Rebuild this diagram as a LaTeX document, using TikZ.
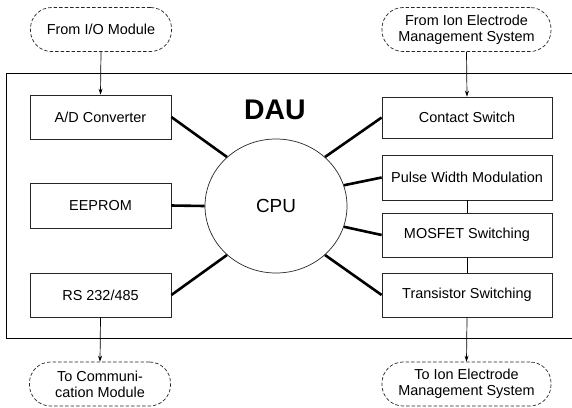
\documentclass[tikz,border=0pt]{standalone}
\usepackage{fontspec}
\setmainfont{Liberation Sans}
\usetikzlibrary{shapes.geometric,arrows.meta}
\begin{document}
\begin{tikzpicture}[x=1bp,y=-1bp,
  box/.style={draw=black!85, line width=0.7bp, inner sep=0pt, align=center,
    font=\fontsize{14.5}{16}\selectfont},
  lbox/.style={box, minimum width=141bp, minimum height=44bp},
  rbox/.style={box, minimum width=170bp, minimum height=44bp},
  ext/.style={draw=black!85, line width=0.7bp, dash pattern=on 3.5bp off 2bp,
    rounded corners=21bp, inner sep=0pt, align=center,
    font=\fontsize{14.5}{16}\selectfont, minimum height=44bp},
  link/.style={line width=2.6bp, black},
  flow/.style={line width=0.7bp, -{Stealth[length=6bp,width=4bp]}},
  thin/.style={line width=0.7bp}
]
\useasboundingbox (0,0) rectangle (572,407);
% DAU frame
\coordinate (ftr) at (573,73);
\coordinate (ftl) at (6,73);
\coordinate (fbl) at (6,338);
\coordinate (fbr) at (573,338);
\draw[thin] (ftr) -- (ftl) -- (fbl) -- (fbr);
\node[font=\fontsize{28.5}{30}\selectfont\bfseries] (dau) at (275,110) {DAU};
% CPU
\node[ellipse, draw=black!85, line width=0.7bp, minimum width=142bp, minimum height=134bp,
  inner sep=0pt, font=\fontsize{19}{21}\selectfont] (cpu) at (276,206) {CPU};
% left boxes
\node[lbox] (ad) at (100.5,117) {A/D Converter};
\node[lbox, minimum height=45bp] (ee) at (100.5,205.5) {EEPROM};
\node[lbox] (rs) at (100.5,295) {RS 232/485};
% right boxes
\node[rbox, minimum height=41bp] (cs) at (467,117.5) {Contact Switch};
\node[rbox, minimum height=45bp] (pwm) at (467,177.5) {Pulse Width Modulation};
\node[rbox] (mos) at (467,235) {MOSFET Switching};
\node[rbox] (tr) at (467,295) {Transistor Switching};
% external
\node[ext, minimum width=141bp] (io) at (101,29.5) {From I/O Module};
\node[ext, minimum width=141bp] (comm) at (100,384) {To Communi-\\cation Module};
\node[ext, minimum width=169bp] (fion) at (466.5,29.5) {From Ion Electrode\\Management System};
\node[ext, minimum width=169bp] (tion) at (466.5,384) {To Ion Electrode\\Management System};
% CPU links
\draw[link] (ad.east) -- (cpu.135);
\draw[link] (ee.east) -- (cpu.west);
\draw[link] (rs.east) -- (cpu.225);
\draw[link] (cs.west) -- (cpu.45);
\draw[link] (pwm.west) -- (cpu.17);
\draw[link] (mos.west) -- (cpu.-17);
\draw[link] (tr.west) -- (cpu.-45);
% chain
\draw[thin] (pwm.south) -- (mos.north);
\draw[thin] (mos.south) -- (tr.north);
% flows
\draw[flow] (io.south) -- (ad.north);
\draw[flow] (rs.south) -- (comm.north);
\draw[flow] (fion.south) -- (cs.north);
\draw[flow] (tr.south) -- (tion.north);
\end{tikzpicture}
\end{document}
